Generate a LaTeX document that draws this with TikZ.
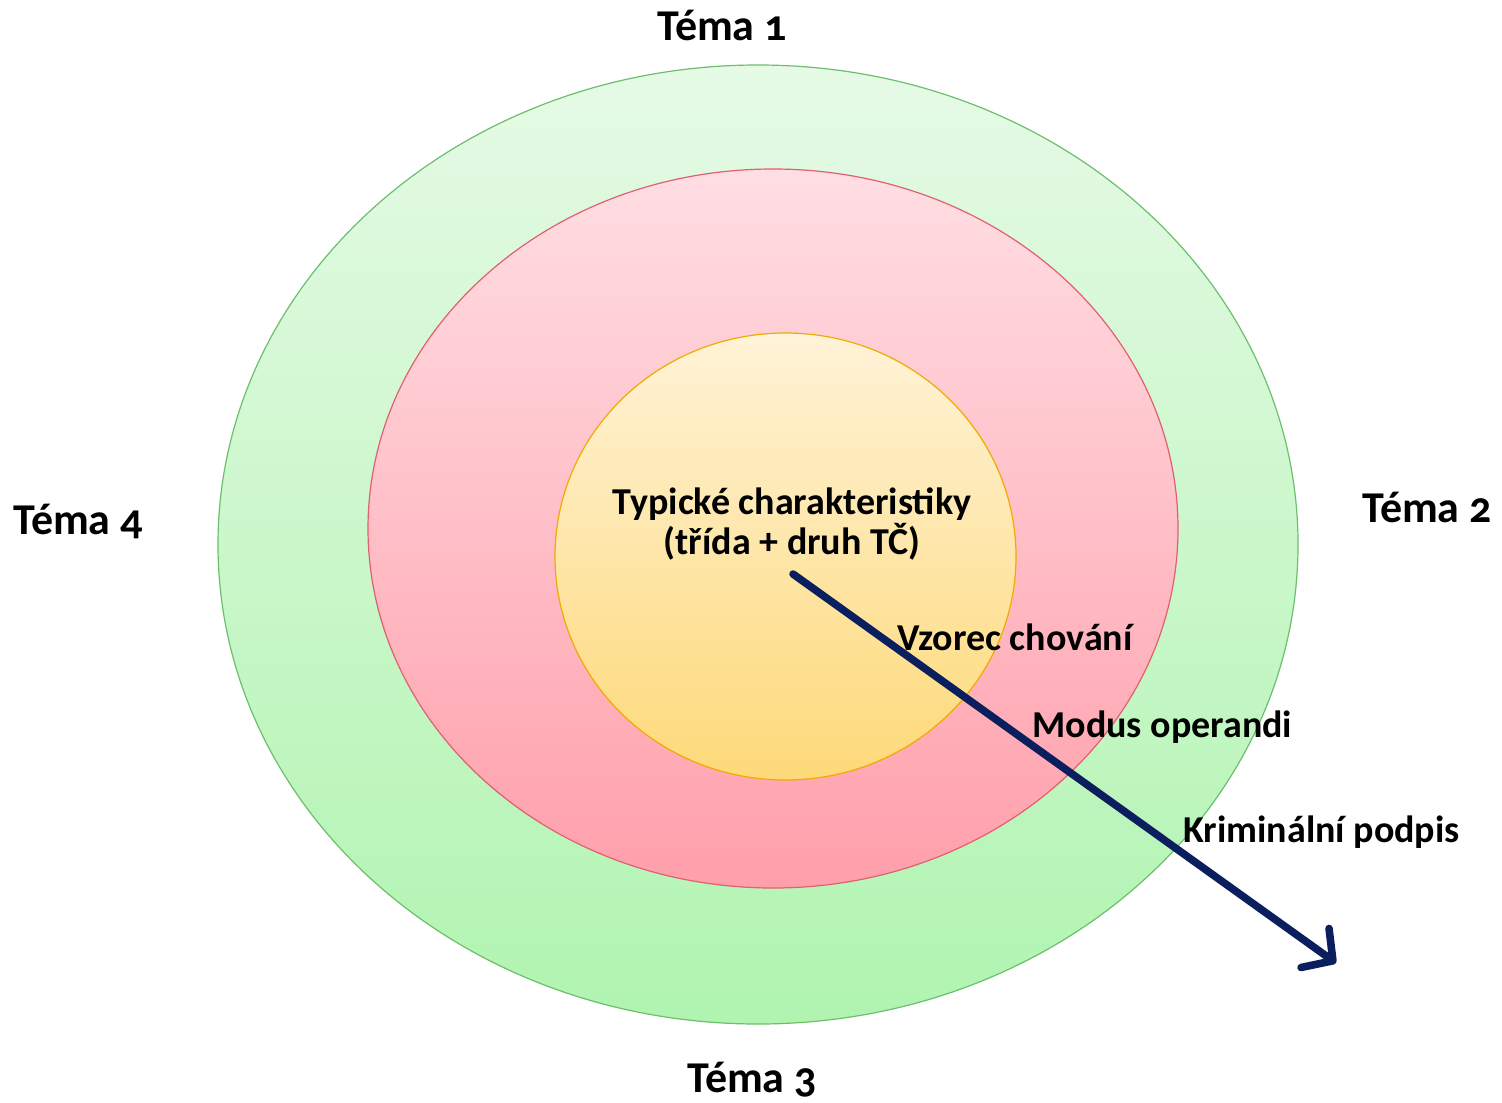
\documentclass[tikz,border=0pt]{standalone}
\usepackage{fontspec}
\setmainfont{Carlito}[Numbers=OldStyle]
\usetikzlibrary{arrows.meta}
\definecolor{greenTop}{HTML}{E6FAE6}
\definecolor{greenBot}{HTML}{B0F4B0}
\definecolor{greenLine}{HTML}{6CBF6C}
\definecolor{pinkTop}{HTML}{FFDEE3}
\definecolor{pinkBot}{HTML}{FF9FAB}
\definecolor{pinkLine}{HTML}{E0606F}
\definecolor{yellowTop}{HTML}{FFF3D8}
\definecolor{yellowBot}{HTML}{FDD978}
\definecolor{yellowLine}{HTML}{F2A900}
\definecolor{navy}{HTML}{0B1F5E}
\tikzset{
  ring/.style={line width=0.6pt},
  lbl/.style={font=\fontsize{19}{21}\selectfont\bfseries, inner sep=0pt},
  topic/.style={font=\fontsize{22}{24}\selectfont\bfseries, inner sep=0pt},
  flow/.style={draw=navy, line width=3.8pt, line cap=round,
    -{Straight Barb[length=11pt, width=24pt, line cap=round, line join=round]}}
}
\begin{document}
\begin{tikzpicture}[x=0.5pt,y=-0.5pt]
\useasboundingbox (0,0) rectangle (1502,1102);
% nested layers
\path[ring, draw=greenLine, top color=greenTop, bottom color=greenBot]
  (758,544.5) ellipse [x radius=270pt, y radius=239.75pt];
\path[ring, draw=pinkLine, top color=pinkTop, bottom color=pinkBot]
  (773,528.5) ellipse [x radius=202.5pt, y radius=179.75pt];
\path[ring, draw=yellowLine, top color=yellowTop, bottom color=yellowBot]
  (785.5,556.5) ellipse [x radius=115.25pt, y radius=111.75pt];
% topic labels
\node[topic] (t1) at (722,25) {Téma 1};
\node[topic] (t2) at (1427,507) {Téma 2};
\node[topic] (t3) at (752,1080) {Téma 3};
\node[topic] (t4) at (78,521) {Téma 4};
% centre text
\node[lbl, align=center] (core) at (792,524)
  {Typické charakteristiky\\[-1pt](třída + druh TČ)};
% arrow from the centre outwards
\coordinate (start) at (793,574);
\coordinate (tip) at (1336,963);
\draw[flow] (start) -- (tip);
% layer labels along the arrow
\node[lbl, anchor=west] (l1) at (897,637) {Vzorec chování};
\node[lbl, anchor=west] (l2) at (1032,727) {Modus operandi};
\node[lbl, anchor=west] (l3) at (1183,832) {Kriminální podpis};
\end{tikzpicture}
\end{document}
